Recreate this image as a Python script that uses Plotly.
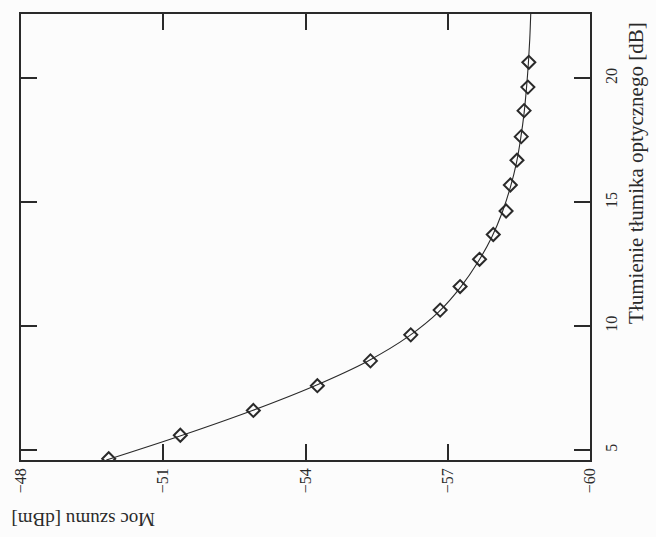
import plotly.graph_objects as go

# Measured noise power versus optical attenuator setting
attenuation_db = [4.65, 5.6, 6.6, 7.6, 8.6, 9.65, 10.65, 11.6, 12.7, 13.7,
                  14.65, 15.7, 16.7, 17.65, 18.7, 19.65, 20.65]
noise_dbm = [-49.85, -51.36, -52.90, -54.25, -55.37, -56.22, -56.84, -57.26,
             -57.67, -57.96, -58.23, -58.32, -58.46, -58.55, -58.61, -58.69,
             -58.71]

# Fitted curve through the measurements
fit_attenuation_db = [4.6, 5.6, 6.6, 7.6, 8.6, 9.6, 10.6, 11.6, 12.6, 13.6,
                      14.6, 15.6, 16.6, 17.6, 18.6, 19.6, 20.6, 21.6, 22.6]
fit_noise_dbm = [-49.80, -51.40, -52.88, -54.20, -55.32, -56.18, -56.82,
                 -57.28, -57.64, -57.93, -58.15, -58.32, -58.45, -58.54,
                 -58.61, -58.66, -58.70, -58.73, -58.75]

# Axis ticks
noise_ticks = [-48, -51, -54, -57, -60]
attenuation_ticks = [5, 10, 15, 20]

INK = "#2a2a2a"
FONT = "Liberation Serif, Times New Roman, serif"

fig = go.Figure()

# The page is laid out turned on its side: noise power runs along the
# bottom edge and attenuation up the right-hand edge.
fig.add_trace(go.Scatter(
    x=fit_noise_dbm, y=fit_attenuation_db,
    mode="lines", line=dict(color=INK, width=1.1, shape="spline"),
    hoverinfo="skip", showlegend=False,
))
fig.add_trace(go.Scatter(
    x=noise_dbm, y=attenuation_db,
    mode="markers",
    marker=dict(symbol="diamond-open", size=10, color=INK,
                line=dict(width=2, color=INK)),
    showlegend=False,
))

axis_common = dict(
    showgrid=False, zeroline=False,
    showline=True, linecolor=INK, linewidth=1.6, mirror="ticks",
    ticks="inside", ticklen=16, tickwidth=1.6, tickcolor=INK,
    tickfont=dict(family=FONT, size=16, color=INK),
)

fig.update_xaxes(
    range=[-48, -60], tickvals=noise_ticks, tickangle=-90,
    **axis_common,
)
fig.update_yaxes(
    range=[4.6, 22.6], tickvals=attenuation_ticks, tickangle=-90,
    side="right", ticklabelstandoff=6, **axis_common,
)

fig.add_annotation(
    text="Tłumienie tłumika optycznego [dB]",
    xref="paper", yref="paper", x=1.082, y=0.643,
    textangle=-90, showarrow=False, xanchor="center", yanchor="middle",
    font=dict(family=FONT, size=21, color=INK),
)
fig.add_annotation(
    text="Moc szumu [dBm]",
    xref="paper", yref="paper", x=0.109, y=-0.132,
    textangle=180, showarrow=False, xanchor="center", yanchor="middle",
    font=dict(family=FONT, size=19, color=INK),
)

fig.update_layout(
    width=656, height=537,
    margin=dict(l=12, r=66, t=12, b=77),
    paper_bgcolor="#fcfcfc", plot_bgcolor="#fcfcfc",
)

fig.write_html("out.html")
